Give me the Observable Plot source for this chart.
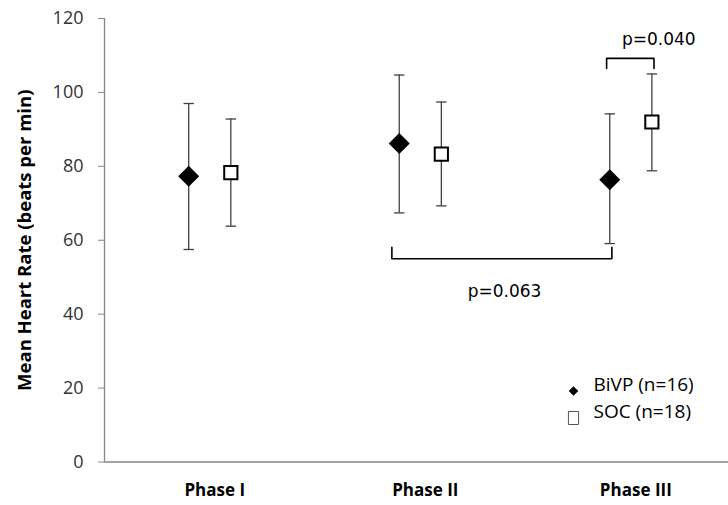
<!DOCTYPE html>
<html><head><meta charset="utf-8">
<script src="https://cdn.jsdelivr.net/npm/d3@7"></script>
<script src="https://cdn.jsdelivr.net/npm/@observablehq/plot@0.6"></script>
<style>html,body{margin:0;padding:0;background:#fff}#chart svg{display:block}</style>
</head><body><div id="chart"></div>
<script>
// ---- data ----
const phases = ["Phase I", "Phase II", "Phase III"];
const seriesNames = ["BiVP (n=16)", "SOC (n=18)"];
const bivpMean = [77.3, 86.2, 76.4];
const bivpLow  = [57.5, 67.4, 59.1];
const bivpHigh = [97.0, 104.7, 94.2];
const socMean  = [78.3, 83.3, 92.0];
const socLow   = [63.8, 69.3, 78.8];
const socHigh  = [92.8, 97.4, 105.0];
const yTicks = [0, 20, 40, 60, 80, 100, 120];
const yLabel = "Mean Heart Rate (beats per min)";
// comparisons: [phase index, series index] endpoints
const pLabels = ["p=0.063", "p=0.040"];
const compFrom = [[1, 0], [2, 0]];
const compTo   = [[2, 0], [2, 1]];
const bracketLevel = [55.0, 109.2];
const bracketTip   = [58.1, 106.5];
const pLabelLevel  = [46.2, 114.2];

// ---- layout / style ----
const seriesOffset = [-0.1, 0.1];
const pLabelDx = [0, 28];
const axisGray = "#868686";
const barGray = "#404040";

const xOf = (p, s) => p + 0.5 + seriesOffset[s];

const rows = [];
const sets = [[bivpMean, bivpLow, bivpHigh], [socMean, socLow, socHigh]];
sets.forEach(([m, lo, hi], s) => {
  phases.forEach((ph, p) => rows.push({phase: ph, series: seriesNames[s], s, x: xOf(p, s), mean: m[p], lo: lo[p], hi: hi[p]}));
});

const diamondSym = {draw(ctx, size) { const r = Math.sqrt(size / Math.PI); ctx.moveTo(0, -r); ctx.lineTo(r, 0); ctx.lineTo(0, r); ctx.lineTo(-r, 0); ctx.closePath(); }};
const squareSym = {draw(ctx, size) { const r = Math.sqrt(size / Math.PI); ctx.rect(-r, -r, 2 * r, 2 * r); }};
const tallRectSym = {draw(ctx, size) { const r = Math.sqrt(size / Math.PI); ctx.rect(-0.78 * r, -r, 1.56 * r, 2 * r); }};
const capSym = {draw(ctx, size) { const r = Math.sqrt(size / Math.PI); ctx.moveTo(-r, 0); ctx.lineTo(r, 0); }};

const bracketPts = [];
pLabels.forEach((lab, i) => {
  const x1 = xOf(...compFrom[i]) - (i === 0 ? 0.035 : 0.015), x2 = xOf(...compTo[i]) + 0.01;
  bracketPts.push({k: i, x: x1, y: bracketTip[i]}, {k: i, x: x1, y: bracketLevel[i]}, {k: i, x: x2, y: bracketLevel[i]}, {k: i, x: x2, y: bracketTip[i]});
});

const legendMarks = seriesNames.flatMap((name, s) => [
  Plot.dot([name], {frameAnchor: "bottom-right", dx: -155, dy: -71 + s * 27, symbol: s === 0 ? diamondSym : tallRectSym, r: s === 0 ? 4.8 : 6.5, fill: s === 0 ? "#000" : "#fff", stroke: s === 0 ? "none" : "#555", strokeWidth: 1}),
  Plot.text([name], {frameAnchor: "bottom-right", dx: -135, dy: -71 + s * 26.5, textAnchor: "start", fontSize: 19, fill: "#000"})
]);

const chart = Plot.plot({
  width: 728, height: 505,
  marginLeft: 104, marginRight: 0, marginTop: 18, marginBottom: 43.5,
  style: {fontFamily: "'Open Sans', sans-serif", background: "#fff"},
  x: {domain: [0, 2.964], axis: null},
  y: {domain: [0, 120], axis: null},
  marks: [
    Plot.axisY({ticks: yTicks, tickSize: 6, tickPadding: 15, fontSize: 18, stroke: axisGray, fill: "#333", label: null}),
    Plot.axisX({ticks: phases.map((d, i) => i + 0.5), tickFormat: d => phases[Math.floor(d)], tickSize: 0, tickPadding: 22, fontSize: 17, fontWeight: "bold", fill: "#000", dx: 5, label: null}),
    Plot.ruleY([0], {stroke: axisGray, strokeWidth: 1.3}),
    Plot.ruleX([0], {y1: 0, y2: 120, stroke: axisGray, strokeWidth: 1.3}),
    Plot.text([yLabel], {frameAnchor: "left", textAnchor: "middle", dx: -79, rotate: -90, fontSize: 18.5, fontWeight: "bold", fill: "#000"}),
    Plot.ruleX(rows, {x: "x", y1: "lo", y2: "hi", stroke: barGray, strokeWidth: 1.3}),
    Plot.dot(rows, {x: "x", y: "lo", symbol: capSym, r: 5.2, stroke: barGray, strokeWidth: 1.3, fill: "none"}),
    Plot.dot(rows, {x: "x", y: "hi", symbol: capSym, r: 5.2, stroke: barGray, strokeWidth: 1.3, fill: "none"}),
    Plot.dot(rows.filter(d => d.s === 0), {x: "x", y: "mean", symbol: diamondSym, r: 10.5, fill: "#000", stroke: "none"}),
    Plot.dot(rows.filter(d => d.s === 1), {x: "x", y: "mean", symbol: squareSym, r: 6.6, fill: "#fff", stroke: "#000", strokeWidth: 2}),
    Plot.line(bracketPts, {x: "x", y: "y", z: "k", stroke: "#000", strokeWidth: 1.6}),
    ...pLabels.map((lab, i) => Plot.text([lab], {
      x: () => (xOf(...compFrom[i]) + xOf(...compTo[i])) / 2, y: () => pLabelLevel[i],
      dx: pLabelDx[i], fontSize: 17, fontFamily: "'DejaVu Sans', sans-serif", fill: "#000"
    })),
    ...legendMarks
  ]
});
document.getElementById("chart").appendChild(chart);
</script>
</body></html>
